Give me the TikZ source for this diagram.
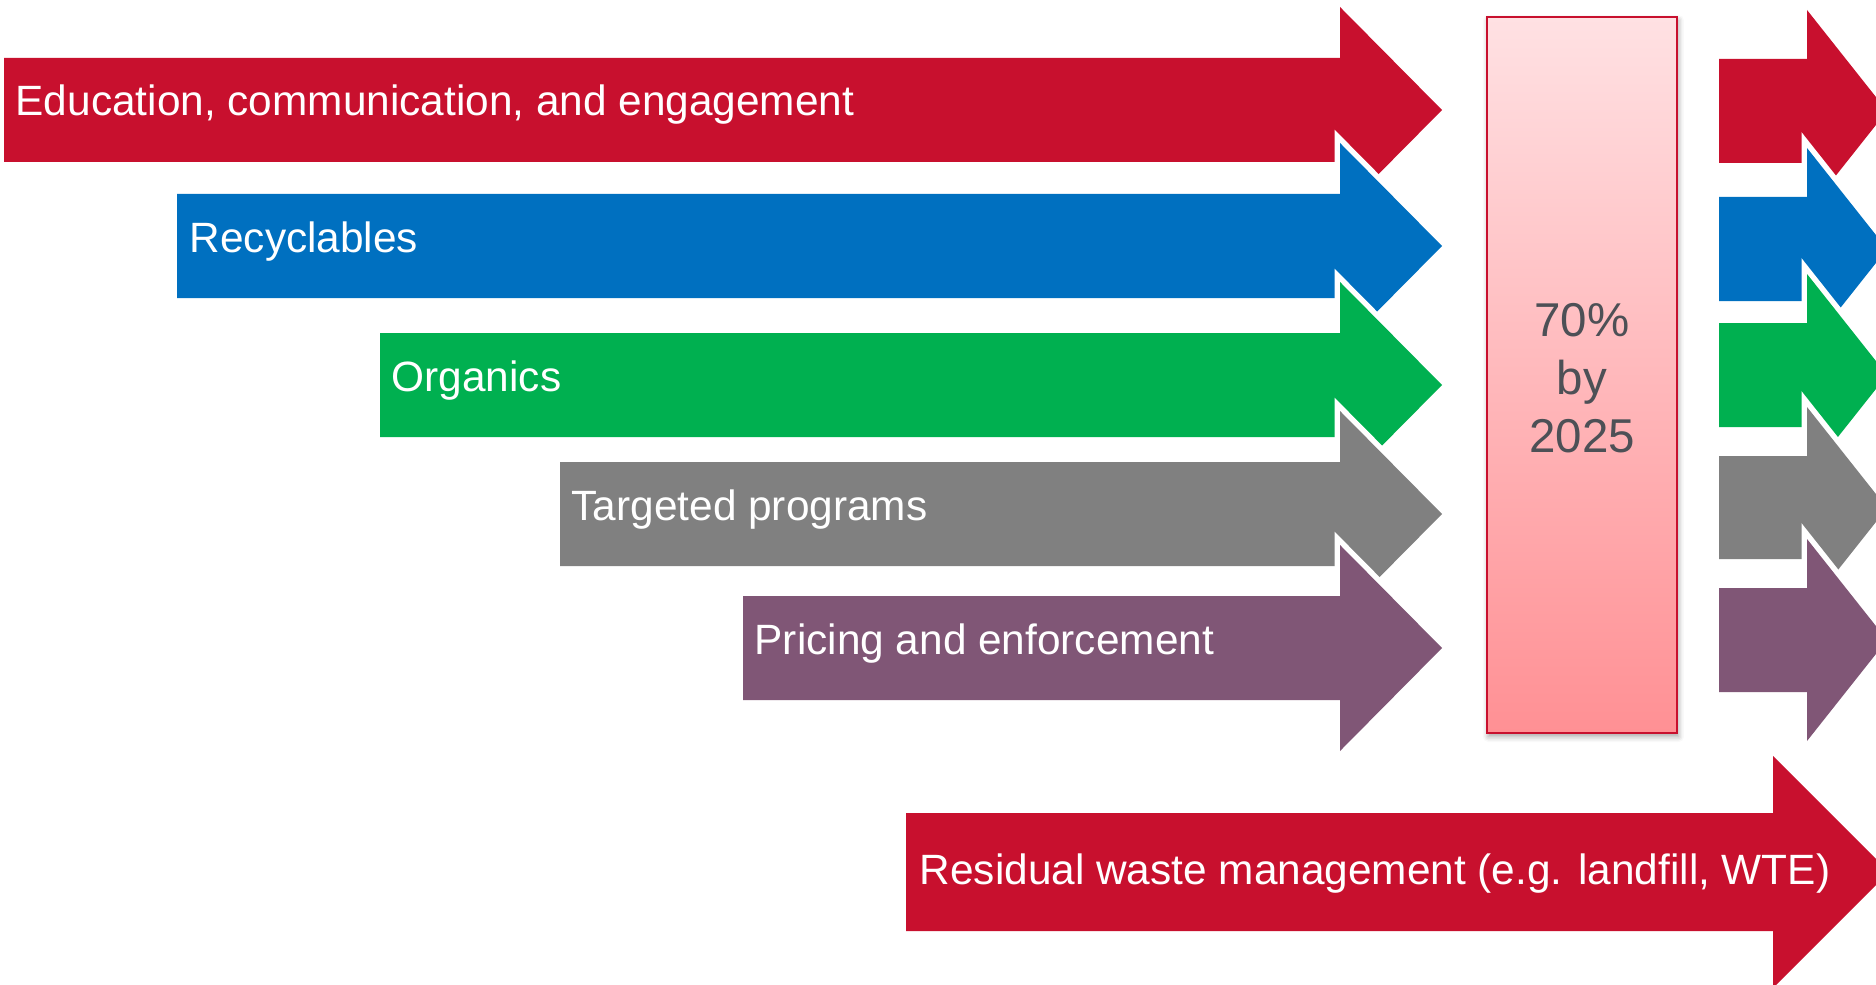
\documentclass[tikz,border=0pt]{standalone}
\usepackage{fontspec}
\setmainfont{Liberation Sans}
\usepackage{tikz}
\usetikzlibrary{shadows.blur}

\definecolor{flowRed}{RGB}{200,16,46}
\definecolor{flowBlue}{RGB}{0,112,192}
\definecolor{flowGreen}{RGB}{0,176,80}
\definecolor{flowGray}{RGB}{128,128,128}
\definecolor{flowPurple}{RGB}{128,86,118}
\definecolor{goalTop}{RGB}{255,225,227}
\definecolor{goalBottom}{RGB}{255,144,148}
\definecolor{goalText}{RGB}{77,80,86}

\begin{document}
\begin{tikzpicture}[
    x=0.01cm, y=-0.01cm,
    bar/.style={fill=#1, preaction={draw=white, line width=0.11cm}},
    barname/.style={anchor=base west, text=white, inner sep=0pt, font=\fontsize{12.05pt}{14.5pt}\selectfont},
    goal/.style={draw=flowRed, line width=0.02cm, top color=goalTop, bottom color=goalBottom,
        minimum width=1.904cm, minimum height=7.16cm, inner sep=0pt,
        blur shadow={shadow xshift=0.4pt, shadow yshift=-1pt, shadow blur radius=1.5pt, shadow opacity=35}},
    goalnote/.style={align=center, inner sep=0pt, text=goalText, font=\fontsize{13.5pt}{16.4pt}\selectfont}
]
\useasboundingbox (0,0) rectangle (1876,985);
\clip (0,0) rectangle (1876,985);

% --- Measures feeding the target (stacked, later ones on top) ---
\path[bar=flowRed]    (4,58)   -| (1340,7)   -- (1442,110) -- (1340,213) |- (4,162)   -- cycle;
\node[barname] (edu) at (15,116) {Education, communication, and engagement};

\path[bar=flowBlue]   (177,194) -| (1340,143) -- (1442,246) -- (1340,349) |- (177,298) -- cycle;
\node[barname] (recy) at (189,252) {Recyclables};

\path[bar=flowGreen]  (380,333) -| (1340,282) -- (1442,385) -- (1340,488) |- (380,437) -- cycle;
\node[barname] (org) at (391,391) {Organics};

\path[bar=flowGray]   (560,462) -| (1340,411) -- (1442,514) -- (1340,617) |- (560,566) -- cycle;
\node[barname] (prog) at (571,520) {Targeted programs};

\path[bar=flowPurple] (743,596) -| (1340,545) -- (1442,648) -- (1340,751) |- (743,700) -- cycle;
\node[barname] (price) at (754,654) {Pricing and enforcement};

% --- Target box ---
\node[goal] (target) at (1582,375) {};
\node[goalnote] (goaltxt) at (1582,378) {70\%\\by\\2025};

% --- Short arrows leaving the target ---
\path[bar=flowRed]    (1719,59)  -| (1807,10)  -- (1887,111) -- (1807,212) |- (1719,163) -- cycle;
\path[bar=flowBlue]   (1719,197) -| (1807,148) -- (1887,249) -- (1807,350) |- (1719,301) -- cycle;
\path[bar=flowGreen]  (1719,323) -| (1807,274) -- (1887,375) -- (1807,476) |- (1719,427) -- cycle;
\path[bar=flowGray]   (1719,456) -| (1807,407) -- (1887,508) -- (1807,609) |- (1719,559) -- cycle;
\path[bar=flowPurple] (1719,588) -| (1807,539) -- (1887,640) -- (1807,741) |- (1719,692) -- cycle;

% --- Residual stream ---
\path[bar=flowRed] (906,813) -| (1773,756) -- (1889,872) -- (1773,988) |- (906,931) -- cycle;
\node[barname] (resid) at (919,884) {Residual waste management (e.g. landfill, WTE)};

\end{tikzpicture}
\end{document}
